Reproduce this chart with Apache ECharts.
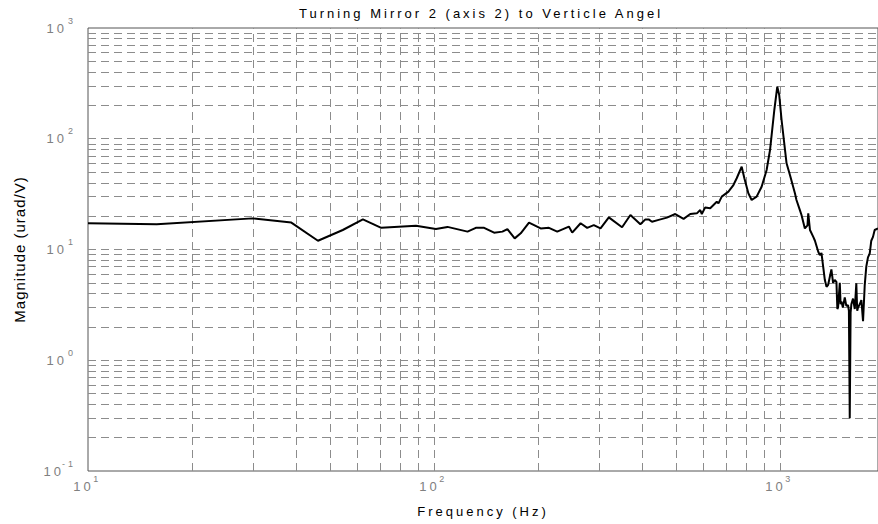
<!DOCTYPE html>
<html><head><meta charset="utf-8">
<script src="https://cdn.jsdelivr.net/npm/echarts@6/dist/echarts.min.js"></script>
<style>
html,body{margin:0;padding:0;background:#fff;}
#c{width:878px;height:524px;}
text[style*="Liberation Sans"]{letter-spacing:3px;}
text[style*="Arial"]{letter-spacing:1px;}
</style></head><body><div id="c"></div>
<script>
const titleText = 'Turning Mirror 2 (axis 2) to Verticle Angel';
const xName = 'Frequency (Hz)';
const yName = 'Magnitude (urad/V)';
const freq = [10, 15.8, 29.9, 38.7, 46.2, 54.5, 62.3, 70.4, 88.7, 101.3, 109.4, 125.0, 132.1, 139.6, 149.2, 157.7, 163.0, 171.1, 178.1, 188.2, 203.4, 214.9, 227.1, 245.4, 250.9, 265.3, 277.2, 289.7, 302.9, 320.1, 349.6, 369.6, 394.9, 408.3, 417.3, 426.6, 446.0, 471.2, 498.2, 526.5, 550.4, 575.1, 588.2, 594.4, 608.0, 628.5, 656.6, 664.0, 678.7, 709.6, 733.5, 749.8, 775.0, 789.0, 810.2, 828.2, 856.1, 885.0, 915.0, 935.9, 963, 982.2, 995, 1010.7, 1044.7, 1068.6, 1104.6, 1116, 1141.6, 1154, 1180, 1201, 1207, 1221, 1248, 1262, 1290, 1304, 1318, 1333, 1348, 1363, 1378, 1394, 1408, 1424, 1440, 1456, 1465, 1472, 1489, 1497, 1505, 1520, 1539, 1555, 1573, 1582, 1591, 1600, 1608, 1626, 1645, 1662, 1672, 1681, 1700, 1719, 1738, 1758, 1776, 1796, 1817, 1836, 1857, 1878, 1920];
const mag = [17.25, 16.9, 19.1, 17.5, 12.0, 15.0, 18.7, 15.7, 16.4, 15.3, 16.0, 14.5, 15.7, 15.7, 14.2, 14.5, 15.3, 12.6, 14.0, 17.5, 15.5, 15.7, 14.5, 16.1, 14.2, 17.25, 15.7, 16.6, 15.5, 19.5, 15.9, 20.5, 16.9, 18.7, 18.7, 17.8, 18.5, 19.4, 20.9, 18.9, 20.9, 21.2, 22.7, 20.9, 24.0, 23.6, 27.0, 26.1, 30.0, 33.3, 38.2, 44.0, 55.9, 44.0, 32.2, 28.0, 30.0, 36.9, 52.2, 79.1, 181.8, 295, 248, 147.7, 60.0, 47.1, 32.2, 28.0, 22.7, 20.5, 15.5, 16.5, 21.2, 15.0, 13.0, 12.0, 9.55, 8.9, 9.3, 7.0, 5.3, 4.6, 4.8, 5.7, 6.6, 5.0, 5.3, 5.1, 2.9, 3.0, 5.0, 3.2, 3.4, 3.0, 3.7, 3.1, 3.15, 2.8, 0.30, 2.7, 3.2, 3.6, 2.9, 4.95, 2.8, 3.0, 3.2, 3.5, 2.25, 4.8, 7.0, 8.5, 9.2, 12.0, 13.0, 15.0, 15.5];
const xGridValues = [20, 30, 40, 50, 60, 70, 80, 90, 100, 200, 300, 400, 500, 600, 700, 800, 900, 1000];
const yGridValues = [0.2, 0.3, 0.4, 0.5, 0.6, 0.7, 0.8, 0.9, 1, 2, 3, 4, 5, 6, 7, 8, 9, 10, 20, 30, 40, 50, 60, 70, 80, 90, 100, 200, 300, 400, 500, 600, 700, 800, 900];
const xMin = 10, xMax = 1920, yMin = 0.1, yMax = 1000;

const SPACED = 'Liberation Sans';
function powLabel(v) {
  const e = Math.log10(v);
  const r = Math.round(e);
  if (Math.abs(e - r) > 1e-6) return '';
  return '{b|10}{s|' + r + '}';
}
const labelRich = {
  b: {fontFamily: SPACED, fontSize: 13, color: '#808080', lineHeight: 16, verticalAlign: 'middle'},
  s: {fontFamily: SPACED, fontSize: 9, color: '#808080', lineHeight: 10, verticalAlign: 'middle', padding: [0, 0, 15, 4]}
};

const chart = echarts.init(document.getElementById('c'), null, {renderer: 'svg'});
chart.setOption({
  animation: false,
  backgroundColor: '#fff',
  title: {
    text: titleText, left: 476, top: 2, textAlign: 'center',
    textStyle: {fontFamily: SPACED, fontSize: 13, fontWeight: 'normal', color: '#000'}
  },
  grid: {left: 88, top: 28, right: -2, bottom: 53, show: true, borderColor: '#555', borderWidth: 1},
  xAxis: {
    type: 'log', logBase: 10, min: xMin, max: xMax,
    name: xName, nameLocation: 'middle', nameGap: 34,
    nameTextStyle: {fontFamily: SPACED, fontSize: 13, color: '#000'},
    axisLine: {show: false}, axisTick: {show: false}, splitLine: {show: false},
    axisLabel: {formatter: powLabel, rich: labelRich, margin: 7, showMaxLabel: false}
  },
  yAxis: {
    type: 'log', logBase: 10, min: yMin, max: yMax,
    name: yName, nameLocation: 'middle', nameGap: 61,
    nameTextStyle: {fontFamily: 'Arial', fontSize: 15, color: '#000'},
    axisLine: {show: false}, axisTick: {show: false}, splitLine: {show: false},
    axisLabel: {formatter: powLabel, rich: labelRich, margin: 12}
  },
  series: [
    {
      type: 'line', data: [], z: 1, silent: true,
      markLine: {
        silent: true, symbol: 'none', animation: false,
        label: {show: false},
        emphasis: {disabled: true},
        lineStyle: {type: [8, 5], color: '#8c8c8c', width: 1},
        data: xGridValues.map(v => ({xAxis: v})).concat(yGridValues.map(v => ({yAxis: v})))
      }
    },
    {
      type: 'line', z: 5,
      data: freq.map((f, i) => [f, mag[i]]),
      showSymbol: false, symbol: 'none',
      lineStyle: {color: '#000', width: 2},
      clip: true
    }
  ]
});
</script></body></html>
